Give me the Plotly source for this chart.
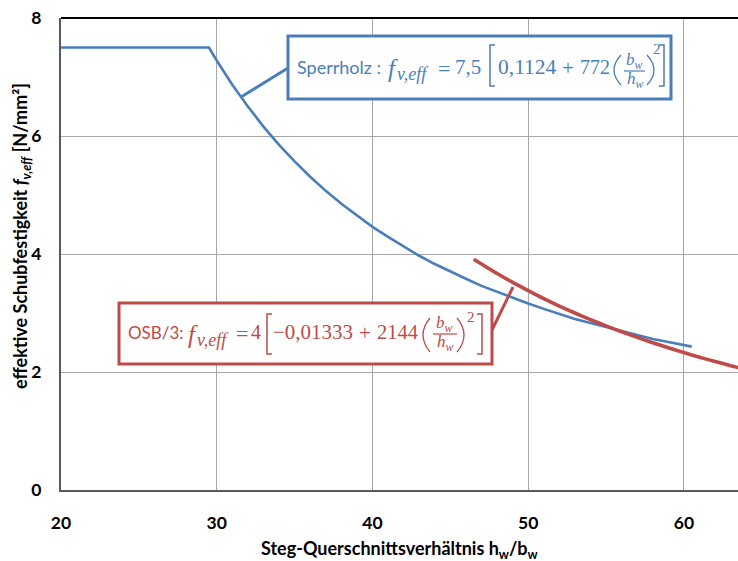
import plotly.graph_objects as go

# ---- data ----
sperr_x = [20, 29.5, 30, 31, 32, 33, 34, 35, 36, 37, 38, 39, 40, 41, 42, 43, 44, 45,
           46, 47, 48, 49, 50, 51, 52, 53, 54, 55, 56, 57, 58, 59, 60, 60.5]
sperr_y = [7.5, 7.5, 7.28, 6.87, 6.50, 6.16, 5.85, 5.57, 5.31, 5.07, 4.85, 4.65, 4.46,
           4.29, 4.13, 3.97, 3.83, 3.70, 3.58, 3.46, 3.36, 3.25, 3.16, 3.07, 2.98, 2.90,
           2.83, 2.76, 2.69, 2.63, 2.56, 2.51, 2.45, 2.43]
osb_x = [46.5, 47, 48, 49, 50, 51, 52, 53, 54, 55, 56, 57, 58, 59, 60, 61, 62, 63, 64]
osb_y = [3.91, 3.83, 3.67, 3.52, 3.38, 3.244, 3.118, 3.00, 2.888, 2.782, 2.682, 2.586,
         2.496, 2.41, 2.329, 2.251, 2.178, 2.107, 2.041]
x_ticks = [20, 30, 40, 50, 60]
y_ticks = [0, 2, 4, 6, 8]

BLUE = "#4A7EBB"
RED = "#BE4B48"
SANS = "Lato, Open Sans, sans-serif"
SERIF = "Liberation Serif, DejaVu Serif, serif"

X0, X1, Y0, Y1 = 20, 63.47, 0, 8
L, R, T, B = 61, 738, 18, 490   # plot area in window pixels
W, H = 738, 561


def px2x(px):
    return X0 + (px - L) / (R - L) * (X1 - X0)


def py2y(py):
    return Y0 + (B - py) / (B - T) * (Y1 - Y0)


def P(px, py):
    return f"{px2x(px):.5f},{py2y(py):.5f}"


fig = go.Figure()
fig.add_trace(go.Scatter(x=sperr_x, y=sperr_y, mode="lines",
                         line=dict(color=BLUE, width=2.6), showlegend=False))
fig.add_trace(go.Scatter(x=osb_x, y=osb_y, mode="lines",
                         line=dict(color=RED, width=3.6, shape="spline", smoothing=0.6),
                         showlegend=False))

ann = []
shapes = []


def txt(px, py, s, size, color, font=SERIF, anchor="left"):
    ann.append(dict(x=px2x(px), y=py2y(py), xref="x", yref="y", text=s,
                    showarrow=False, xanchor=anchor, yanchor="middle",
                    font=dict(family=font, size=size, color=color), borderpad=0))


def rect(x0, y0, x1, y1, color):
    shapes.append(dict(type="rect", xref="x", yref="y", x0=px2x(x0), x1=px2x(x1),
                       y0=py2y(y0), y1=py2y(y1), line=dict(color=color, width=3),
                       fillcolor="white", layer="above"))


def seg(x0, y0, x1, y1, color, w=3):
    shapes.append(dict(type="line", xref="x", yref="y", x0=px2x(x0), x1=px2x(x1),
                       y0=py2y(y0), y1=py2y(y1), line=dict(color=color, width=w),
                       layer="above"))


def path(d, color, w=1.5):
    shapes.append(dict(type="path", xref="x", yref="y", path=d,
                       line=dict(color=color, width=w), layer="above"))


def lbrack(x, top, bot, color):
    path(f"M{P(x + 5, top)} L{P(x, top)} L{P(x, bot)} L{P(x + 5, bot)}", color)


def rbrack(x, top, bot, color):
    path(f"M{P(x - 5, top)} L{P(x, top)} L{P(x, bot)} L{P(x - 5, bot)}", color)


def lparen(x0, x1, top, bot, color):
    path(f"M{P(x1, top)} Q{P(x1 - 2 * (x1 - x0), (top + bot) / 2)} {P(x1, bot)}", color, 1.3)


def rparen(x0, x1, top, bot, color):
    path(f"M{P(x0, top)} Q{P(x0 + 2 * (x1 - x0), (top + bot) / 2)} {P(x0, bot)}", color, 1.3)


SUBW = "<i>b</i><sub><i>w</i></sub>"
SUBH = "<i>h</i><sub><i>w</i></sub>"

# ---------------- Sperrholz callout ----------------
c = BLUE
seg(288, 68, 241, 97, c)
rect(288, 36, 671, 99, c)
txt(296, 67, "Sperrholz :", 18, c, SANS)
txt(387, 68, "<i>f</i>", 25, c)
txt(396, 74, "<i>v,eff</i>", 18, c)
txt(437, 68, "=", 22, c)
txt(454, 67, "7,5", 21, c)
lbrack(490, 45, 86, c)
txt(497, 67, "0,1124", 21.5, c)
txt(561, 68, "+", 21, c)
txt(579, 67, "772", 20, c)
lparen(614, 621, 55, 85, c)
txt(634, 61, SUBW, 17, c, anchor="center")
seg(624, 71, 645, 71, c, 1.2)
txt(635, 80, SUBH, 17, c, anchor="center")
rparen(647, 654, 55, 85, c)
txt(652, 49, "2", 15, c)
rbrack(664, 45, 86, c)

# ---------------- OSB/3 callout ----------------
c = RED
seg(492, 330, 513, 287, c)
rect(119, 303, 492, 364, c)
txt(127, 332, "OSB/3:", 17, c, SANS)
txt(187, 334, "<i>f</i>", 25, c)
txt(196, 340, "<i>v,eff</i>", 18, c)
txt(235, 333, "=", 22, c)
txt(250, 332, "4", 20, c)
lbrack(267, 314, 354, c)
txt(272, 332, "−0,01333", 21, c)
txt(358, 333, "+", 21, c)
txt(376, 332, "2144", 20.5, c)
lparen(423, 430, 318, 352, c)
txt(444, 324, SUBW, 17, c, anchor="center")
seg(433, 334, 457, 334, c, 1.2)
txt(445, 343, SUBH, 17, c, anchor="center")
rparen(457, 464, 318, 352, c)
txt(466, 317, "2", 15, c)
rbrack(482, 314, 354, c)

# top border of the plot area
shapes.append(dict(type="line", xref="paper", yref="paper", x0=0, x1=1, y0=1, y1=1,
                   line=dict(color="black", width=2), layer="above"))

# axis titles
ann.append(dict(x=0.5, xref="paper", y=(B - 549) / (B - T), yref="paper",
                yanchor="middle",
                text="<b>Steg-Querschnittsverhältnis h<sub>w</sub>/b<sub>w</sub></b>",
                showarrow=False, font=dict(family=SANS, size=18, color="black")))
ann.append(dict(x=(21 - L) / (R - L), xref="paper", y=(B - 236) / (B - T), yref="paper",
                xanchor="center", yanchor="middle",
                text="<b>effektive Schubfestigkeit <i>f</i><sub><i>v,eff</i></sub> [N/mm²]</b>",
                textangle=-90, showarrow=False,
                font=dict(family=SANS, size=18, color="black")))

fig.update_layout(
    width=W, height=H,
    margin=dict(l=L, r=W - R, t=T, b=H - B, autoexpand=False),
    plot_bgcolor="white", paper_bgcolor="white",
    annotations=ann, shapes=shapes, showlegend=False,
    font=dict(family=SANS),
)
fig.update_xaxes(range=[X0, X1], tickvals=x_ticks, ticktext=[str(v) for v in x_ticks],
                 showgrid=True, gridcolor="#A6A6A6", gridwidth=1,
                 showline=True, linecolor="#595959", linewidth=2,
                 ticks="outside", ticklen=16, tickcolor="rgba(0,0,0,0)",
                 ticklabeloverflow="allow",
                 tickfont=dict(family=SANS, size=17.5, color="black", weight="bold"),
                 zeroline=False)
fig.update_yaxes(range=[Y0, Y1], tickvals=y_ticks, ticktext=[str(v) for v in y_ticks],
                 showgrid=True, gridcolor="#A6A6A6", gridwidth=1,
                 showline=True, linecolor="#595959", linewidth=2,
                 ticks="outside", ticklen=14, tickcolor="rgba(0,0,0,0)",
                 ticklabeloverflow="allow",
                 tickfont=dict(family=SANS, size=17.5, color="black", weight="bold"),
                 zeroline=False)

# remove the default page margin so the figure sits at the window's top-left corner
fig.write_html("out.html", config={"displayModeBar": False},
               post_script="document.body.style.margin='0';document.body.style.overflow='hidden';")
